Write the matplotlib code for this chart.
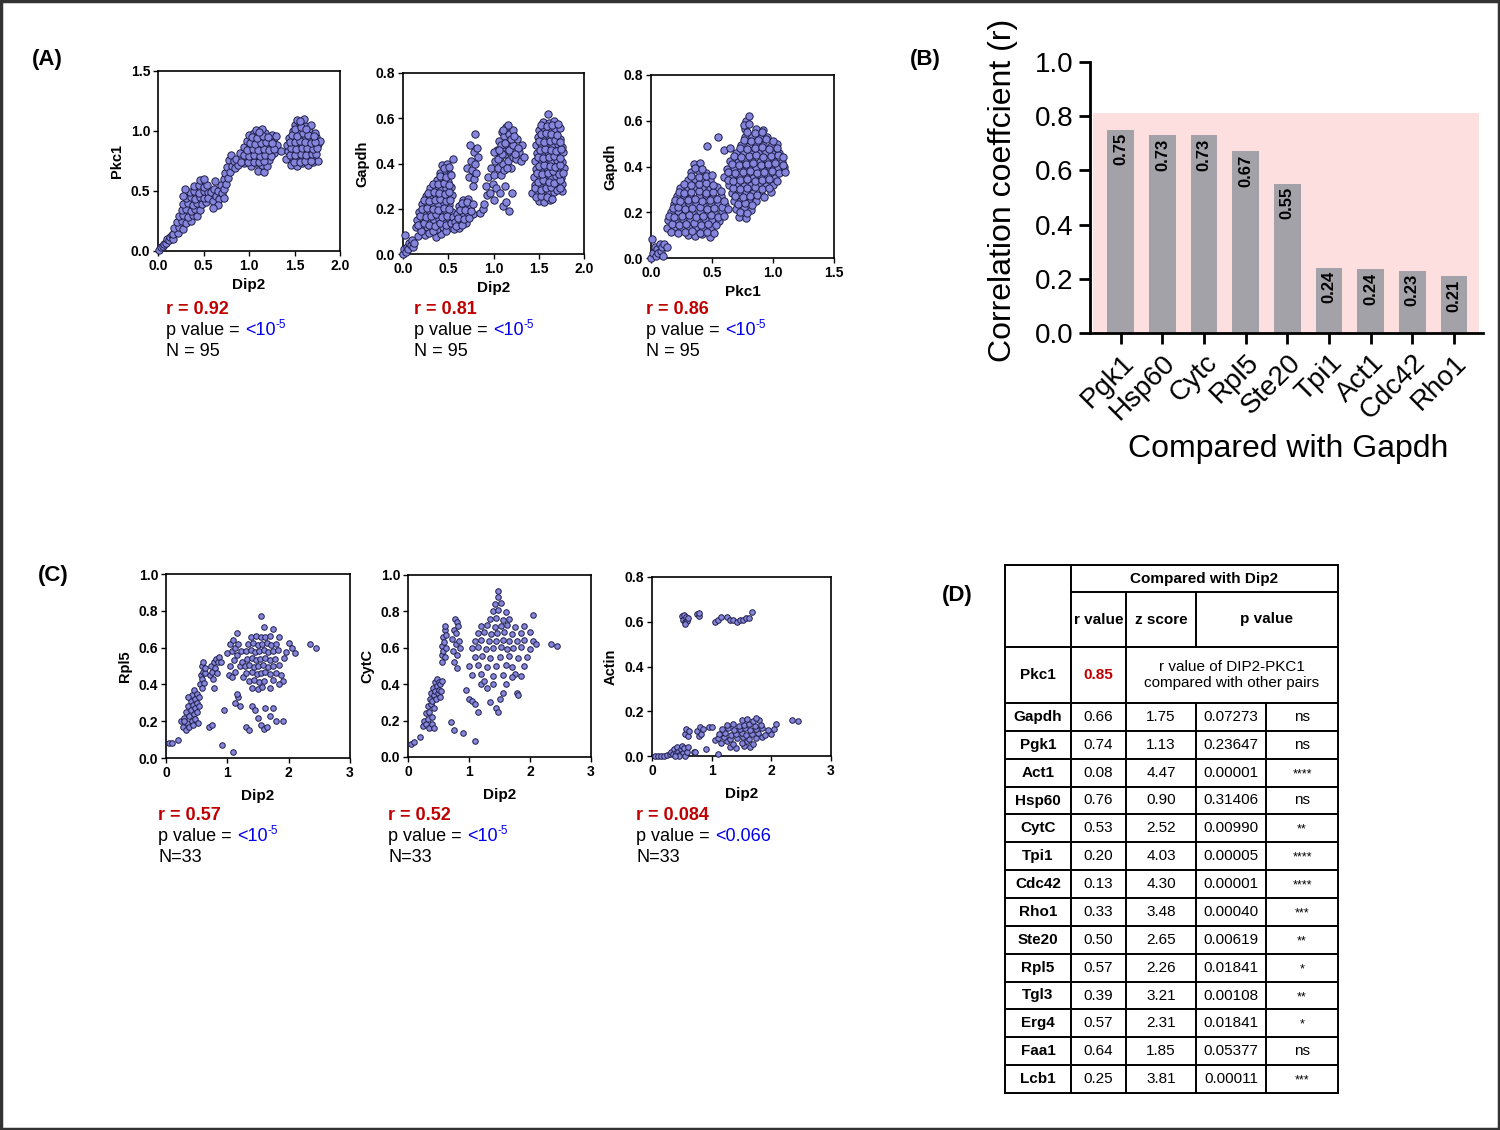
import matplotlib.pyplot as plt
import numpy as np
from matplotlib.patches import Rectangle

plt.rcParams['font.family'] = ['Liberation Sans', 'DejaVu Sans']
plt.rcParams['mathtext.fontset'] = 'custom'
plt.rcParams['mathtext.rm'] = 'Liberation Sans'

# ---------------- data ----------------
# (A) Pkc1 vs Dip2
a1_pts = [
    (0.01, 0.01), (0.03, 0.03), (0.05, 0.04), (0.07, 0.06), (0.09, 0.07), (0.10, 0.10),
    (0.12, 0.09), (0.13, 0.12), (0.15, 0.13), (0.16, 0.10),
    (0.17, 0.14), (0.22, 0.15), (0.18, 0.19), (0.23, 0.20), (0.28, 0.18),
    (0.21, 0.24), (0.26, 0.25), (0.31, 0.23), (0.36, 0.25),
    (0.23, 0.29), (0.28, 0.30), (0.33, 0.28), (0.38, 0.30), (0.43, 0.29),
    (0.26, 0.34), (0.31, 0.35), (0.36, 0.33), (0.41, 0.35), (0.46, 0.34),
    (0.28, 0.39), (0.33, 0.40), (0.38, 0.38), (0.43, 0.40), (0.48, 0.39), (0.53, 0.41),
    (0.31, 0.44), (0.36, 0.45), (0.41, 0.43), (0.46, 0.45), (0.51, 0.44), (0.56, 0.46),
    (0.35, 0.49), (0.40, 0.50), (0.45, 0.48), (0.50, 0.50), (0.55, 0.49),
    (0.40, 0.54), (0.45, 0.55), (0.50, 0.53), (0.54, 0.55),
    (0.46, 0.59), (0.51, 0.60), (0.30, 0.52), (0.28, 0.46),
    (0.55, 0.44), (0.58, 0.49), (0.60, 0.42), (0.62, 0.52), (0.64, 0.46), (0.66, 0.50),
    (0.67, 0.43), (0.69, 0.55), (0.70, 0.48), (0.72, 0.60), (0.72, 0.52), (0.74, 0.65),
    (0.75, 0.56), (0.76, 0.70), (0.77, 0.61), (0.78, 0.76), (0.79, 0.66), (0.80, 0.80),
    (0.81, 0.71), (0.83, 0.75), (0.85, 0.69), (0.73, 0.44), (0.63, 0.58), (0.66, 0.38),
    (0.60, 0.36),
    (1.10, 0.67), (1.16, 0.66),
    (0.88, 0.72), (0.95, 0.73), (1.02, 0.71), (1.08, 0.73), (1.14, 0.72), (1.20, 0.71),
    (0.86, 0.77), (0.92, 0.78), (0.98, 0.76), (1.04, 0.78), (1.10, 0.77), (1.16, 0.78), (1.22, 0.76),
    (0.90, 0.82), (0.97, 0.81), (1.03, 0.83), (1.09, 0.82), (1.15, 0.81), (1.21, 0.83), (1.27, 0.82),
    (0.95, 0.87), (1.01, 0.88), (1.07, 0.86), (1.13, 0.88), (1.19, 0.87), (1.25, 0.86), (1.31, 0.88),
    (0.98, 0.92), (1.04, 0.93), (1.10, 0.91), (1.16, 0.93), (1.22, 0.92), (1.28, 0.94),
    (1.00, 0.97), (1.06, 0.98), (1.12, 0.96), (1.18, 0.98), (1.25, 0.97),
    (1.08, 1.01), (1.14, 1.02), (1.35, 0.83), (1.30, 0.96),
    (0.91, 0.745), (0.99, 0.74), (1.05, 0.745), (1.11, 0.74), (1.17, 0.75),
    (0.94, 0.80), (1.00, 0.795), (1.06, 0.80), (1.12, 0.79), (1.18, 0.80), (1.24, 0.79),
    (0.98, 0.845), (1.04, 0.85), (1.10, 0.845), (1.16, 0.85), (1.22, 0.845), (1.28, 0.85),
    (1.01, 0.90), (1.07, 0.895), (1.13, 0.90), (1.19, 0.905), (1.25, 0.90),
    (1.03, 0.95), (1.09, 0.945), (1.15, 0.955), (1.21, 0.95), (1.11, 0.99),
    (1.46, 0.72), (1.53, 0.71), (1.58, 0.73), (1.65, 0.72), (1.70, 0.74),
    (1.41, 0.77), (1.47, 0.78), (1.52, 0.76), (1.59, 0.78), (1.64, 0.77), (1.71, 0.79), (1.76, 0.75),
    (1.43, 0.83), (1.49, 0.82), (1.55, 0.84), (1.61, 0.83), (1.67, 0.82), (1.73, 0.84),
    (1.42, 0.88), (1.47, 0.89), (1.53, 0.87), (1.58, 0.89), (1.64, 0.88), (1.70, 0.87), (1.76, 0.89),
    (1.44, 0.94), (1.50, 0.93), (1.56, 0.95), (1.62, 0.94), (1.68, 0.93), (1.74, 0.95), (1.78, 0.92),
    (1.48, 1.00), (1.54, 0.99), (1.60, 1.01), (1.66, 1.00), (1.72, 0.98),
    (1.50, 1.05), (1.56, 1.06), (1.62, 1.04), (1.68, 1.05),
    (1.53, 1.09), (1.60, 1.10),
    (1.49, 0.745), (1.56, 0.745), (1.62, 0.75), (1.68, 0.75),
    (1.45, 0.80), (1.51, 0.80), (1.57, 0.81), (1.63, 0.80), (1.69, 0.81), (1.74, 0.81),
    (1.46, 0.86), (1.52, 0.85), (1.58, 0.86), (1.64, 0.855), (1.70, 0.85), (1.75, 0.86),
    (1.45, 0.91), (1.50, 0.91), (1.56, 0.92), (1.62, 0.91), (1.68, 0.90), (1.73, 0.91),
    (1.47, 0.97), (1.53, 0.96), (1.59, 0.98), (1.65, 0.97), (1.71, 0.96),
    (1.51, 1.02), (1.57, 1.03), (1.63, 1.02), (1.56, 1.08),
]

# (A) Gapdh vs Dip2
a2_pts = [
    (0.00, 0.00), (0.01, 0.02), (0.02, 0.085), (0.03, 0.01), (0.04, 0.03), (0.06, 0.02),
    (0.07, 0.05), (0.09, 0.04), (0.10, 0.06), (0.11, 0.03), (0.12, 0.05),
    (0.17, 0.08), (0.24, 0.085), (0.36, 0.075), (0.42, 0.09),
    (0.14, 0.12), (0.20, 0.11), (0.26, 0.12), (0.32, 0.115), (0.38, 0.11), (0.44, 0.12), (0.50, 0.115),
    (0.16, 0.15), (0.22, 0.155), (0.28, 0.145), (0.34, 0.15), (0.40, 0.155), (0.46, 0.145), (0.52, 0.15),
    (0.18, 0.185), (0.24, 0.18), (0.30, 0.19), (0.36, 0.185), (0.42, 0.18), (0.48, 0.19), (0.54, 0.185),
    (0.21, 0.22), (0.27, 0.225), (0.33, 0.215), (0.39, 0.22), (0.45, 0.225), (0.51, 0.215),
    (0.25, 0.255), (0.31, 0.25), (0.37, 0.26), (0.43, 0.255), (0.49, 0.25), (0.54, 0.26),
    (0.30, 0.29), (0.36, 0.295), (0.42, 0.285), (0.48, 0.29), (0.53, 0.295),
    (0.38, 0.325), (0.44, 0.33), (0.50, 0.32),
    (0.41, 0.36), (0.47, 0.365), (0.52, 0.355),
    (0.43, 0.395), (0.49, 0.40), (0.55, 0.42),
    (0.20, 0.10), (0.29, 0.095), (0.33, 0.10), (0.47, 0.10),
    (0.17, 0.13), (0.23, 0.135), (0.29, 0.13), (0.35, 0.125), (0.41, 0.135), (0.47, 0.13), (0.53, 0.135),
    (0.19, 0.17), (0.25, 0.165), (0.31, 0.17), (0.37, 0.175), (0.43, 0.165), (0.49, 0.17), (0.55, 0.165),
    (0.21, 0.20), (0.27, 0.205), (0.33, 0.20), (0.39, 0.195), (0.45, 0.205), (0.51, 0.20),
    (0.23, 0.24), (0.29, 0.235), (0.35, 0.24), (0.41, 0.245), (0.47, 0.235), (0.52, 0.24),
    (0.28, 0.27), (0.34, 0.275), (0.40, 0.27), (0.46, 0.265), (0.51, 0.275),
    (0.33, 0.31), (0.39, 0.31), (0.45, 0.315), (0.51, 0.305),
    (0.41, 0.345), (0.47, 0.34), (0.53, 0.35), (0.45, 0.38), (0.51, 0.385),
    (0.56, 0.11), (0.62, 0.115), (0.58, 0.14), (0.64, 0.145), (0.70, 0.135),
    (0.60, 0.175), (0.66, 0.17), (0.72, 0.18), (0.77, 0.175),
    (0.62, 0.21), (0.68, 0.215), (0.74, 0.205), (0.66, 0.24), (0.72, 0.245),
    (0.59, 0.125), (0.65, 0.13), (0.61, 0.16), (0.67, 0.155), (0.73, 0.16), (0.63, 0.195),
    (0.69, 0.195), (0.75, 0.19), (0.65, 0.225), (0.71, 0.23), (0.77, 0.22),
    (0.85, 0.18), (0.88, 0.20), (0.90, 0.22), (0.93, 0.26),
    (0.71, 0.38), (0.73, 0.34), (0.75, 0.41), (0.76, 0.37), (0.78, 0.45), (0.79, 0.33),
    (0.80, 0.40), (0.81, 0.36), (0.83, 0.43), (0.74, 0.48), (0.77, 0.30), (0.82, 0.47), (0.80, 0.53),
    (0.92, 0.30), (0.94, 0.34), (0.96, 0.27), (0.97, 0.38), (0.99, 0.31), (1.00, 0.24),
    (1.01, 0.35), (1.02, 0.41), (1.03, 0.29), (1.04, 0.46), (1.05, 0.38), (1.06, 0.50),
    (1.07, 0.43), (1.08, 0.35), (1.09, 0.54), (1.10, 0.47), (1.11, 0.40), (1.12, 0.52),
    (1.13, 0.44), (1.14, 0.56), (1.15, 0.48), (1.16, 0.41), (1.17, 0.53), (1.18, 0.45),
    (1.19, 0.38), (1.20, 0.50), (1.21, 0.43), (1.22, 0.55), (1.23, 0.47), (1.25, 0.42),
    (1.26, 0.51), (1.28, 0.45), (1.30, 0.41), (1.32, 0.48), (1.34, 0.43), (1.08, 0.48),
    (1.12, 0.37), (1.16, 0.57), (1.00, 0.45),
    (1.05, 0.42), (1.09, 0.44), (1.13, 0.49), (1.17, 0.46), (1.21, 0.48), (1.11, 0.55),
    (1.19, 0.51), (1.23, 0.52), (1.06, 0.46), (1.15, 0.38), (1.27, 0.47), (1.24, 0.44),
    (1.10, 0.21), (1.14, 0.23), (1.17, 0.19), (1.20, 0.27), (1.07, 0.27), (1.13, 0.30),
    (1.50, 0.235), (1.56, 0.23), (1.62, 0.24),
    (1.43, 0.27), (1.49, 0.275), (1.55, 0.265), (1.61, 0.27), (1.67, 0.275), (1.76, 0.28),
    (1.46, 0.305), (1.52, 0.30), (1.58, 0.31), (1.64, 0.305), (1.70, 0.30), (1.76, 0.31),
    (1.45, 0.34), (1.51, 0.345), (1.57, 0.335), (1.63, 0.34), (1.69, 0.345), (1.75, 0.335),
    (1.47, 0.375), (1.53, 0.37), (1.59, 0.38), (1.65, 0.375), (1.71, 0.37), (1.78, 0.38),
    (1.46, 0.41), (1.52, 0.415), (1.58, 0.405), (1.64, 0.41), (1.70, 0.415), (1.76, 0.405),
    (1.48, 0.445), (1.54, 0.44), (1.60, 0.45), (1.66, 0.445), (1.72, 0.44), (1.77, 0.45),
    (1.47, 0.48), (1.53, 0.485), (1.59, 0.475), (1.65, 0.48), (1.71, 0.485), (1.76, 0.475),
    (1.49, 0.515), (1.55, 0.51), (1.61, 0.52), (1.67, 0.515), (1.73, 0.51),
    (1.50, 0.55), (1.56, 0.555), (1.62, 0.545), (1.68, 0.55), (1.74, 0.555),
    (1.55, 0.585), (1.61, 0.58), (1.67, 0.59), (1.60, 0.62),
    (1.47, 0.25), (1.53, 0.255), (1.59, 0.25), (1.65, 0.245),
    (1.46, 0.29), (1.52, 0.285), (1.58, 0.29), (1.64, 0.295), (1.70, 0.285), (1.74, 0.29),
    (1.49, 0.32), (1.55, 0.325), (1.61, 0.32), (1.67, 0.315), (1.73, 0.325),
    (1.48, 0.36), (1.54, 0.355), (1.60, 0.36), (1.66, 0.365), (1.72, 0.355), (1.77, 0.36),
    (1.50, 0.39), (1.56, 0.395), (1.62, 0.39), (1.68, 0.385), (1.74, 0.395),
    (1.49, 0.43), (1.55, 0.425), (1.61, 0.43), (1.67, 0.435), (1.73, 0.425),
    (1.51, 0.46), (1.57, 0.465), (1.63, 0.46), (1.69, 0.455), (1.75, 0.465),
    (1.50, 0.50), (1.56, 0.495), (1.62, 0.50), (1.68, 0.505), (1.74, 0.495),
    (1.52, 0.53), (1.58, 0.535), (1.64, 0.53), (1.70, 0.525),
    (1.53, 0.57), (1.59, 0.565), (1.65, 0.57), (1.71, 0.575),
]

# (A) Gapdh vs Pkc1
a3_pts = [
    (0.00, 0.00), (0.01, 0.085), (0.02, 0.02), (0.03, 0.05), (0.04, 0.01), (0.05, 0.04),
    (0.06, 0.02), (0.07, 0.06), (0.08, 0.03), (0.09, 0.05), (0.10, 0.01), (0.11, 0.06), (0.13, 0.05),
    (0.30, 0.10), (0.36, 0.095), (0.42, 0.105), (0.48, 0.09),
    (0.13, 0.13), (0.19, 0.135), (0.25, 0.125), (0.31, 0.13), (0.37, 0.135), (0.43, 0.125), (0.49, 0.13),
    (0.14, 0.165), (0.20, 0.16), (0.26, 0.17), (0.32, 0.165), (0.38, 0.16), (0.44, 0.17), (0.50, 0.165), (0.56, 0.16),
    (0.16, 0.20), (0.22, 0.205), (0.28, 0.195), (0.34, 0.20), (0.40, 0.205), (0.46, 0.195), (0.52, 0.20), (0.58, 0.205),
    (0.19, 0.235), (0.25, 0.23), (0.31, 0.24), (0.37, 0.235), (0.43, 0.23), (0.49, 0.24), (0.55, 0.235), (0.61, 0.23),
    (0.21, 0.27), (0.27, 0.275), (0.33, 0.265), (0.39, 0.27), (0.45, 0.275), (0.51, 0.265), (0.57, 0.27),
    (0.24, 0.305), (0.30, 0.30), (0.36, 0.31), (0.42, 0.305), (0.48, 0.30), (0.54, 0.31),
    (0.30, 0.34), (0.36, 0.345), (0.42, 0.335), (0.48, 0.34),
    (0.33, 0.375), (0.39, 0.38), (0.45, 0.37), (0.35, 0.41), (0.40, 0.415),
    (0.16, 0.115), (0.22, 0.11), (0.28, 0.115), (0.34, 0.12), (0.40, 0.11), (0.46, 0.115), (0.52, 0.11),
    (0.17, 0.15), (0.23, 0.145), (0.29, 0.15), (0.35, 0.155), (0.41, 0.145), (0.47, 0.15), (0.53, 0.145),
    (0.15, 0.185), (0.19, 0.18), (0.25, 0.185), (0.31, 0.19), (0.37, 0.18), (0.43, 0.185), (0.49, 0.19), (0.55, 0.18), (0.60, 0.185),
    (0.18, 0.22), (0.22, 0.225), (0.28, 0.215), (0.34, 0.22), (0.40, 0.225), (0.46, 0.215), (0.52, 0.22), (0.58, 0.225), (0.63, 0.215),
    (0.20, 0.255), (0.24, 0.25), (0.30, 0.255), (0.36, 0.26), (0.42, 0.25), (0.48, 0.255), (0.54, 0.26), (0.60, 0.25),
    (0.23, 0.29), (0.27, 0.285), (0.33, 0.29), (0.39, 0.295), (0.45, 0.285), (0.51, 0.29), (0.57, 0.295),
    (0.27, 0.325), (0.33, 0.32), (0.39, 0.325), (0.45, 0.33), (0.51, 0.32),
    (0.33, 0.36), (0.39, 0.355), (0.45, 0.36), (0.50, 0.365), (0.36, 0.395), (0.42, 0.39),
    (0.72, 0.18), (0.78, 0.175),
    (0.70, 0.215), (0.76, 0.22), (0.82, 0.21),
    (0.68, 0.25), (0.74, 0.255), (0.80, 0.245), (0.86, 0.25),
    (0.66, 0.285), (0.72, 0.28), (0.78, 0.29), (0.84, 0.285), (0.90, 0.28), (0.98, 0.29),
    (0.64, 0.32), (0.70, 0.325), (0.76, 0.315), (0.82, 0.32), (0.88, 0.325), (0.94, 0.315), (1.00, 0.32),
    (0.60, 0.355), (0.66, 0.35), (0.72, 0.36), (0.78, 0.355), (0.84, 0.35), (0.90, 0.36), (0.96, 0.355), (1.02, 0.35),
    (0.62, 0.39), (0.68, 0.395), (0.74, 0.385), (0.80, 0.39), (0.86, 0.395), (0.92, 0.385), (0.98, 0.39), (1.04, 0.395), (1.09, 0.40),
    (0.65, 0.425), (0.71, 0.42), (0.77, 0.43), (0.83, 0.425), (0.89, 0.42), (0.95, 0.43), (1.01, 0.425), (1.07, 0.42),
    (0.70, 0.46), (0.76, 0.465), (0.82, 0.455), (0.88, 0.46), (0.94, 0.465), (1.00, 0.455), (1.05, 0.46),
    (0.74, 0.495), (0.80, 0.49), (0.86, 0.50), (0.92, 0.495), (0.98, 0.49), (1.03, 0.50),
    (0.77, 0.53), (0.83, 0.535), (0.89, 0.525), (0.95, 0.53),
    (0.77, 0.565), (0.86, 0.565), (0.92, 0.56), (0.78, 0.60), (0.80, 0.62),
    (0.73, 0.20), (0.79, 0.195), (0.71, 0.235), (0.77, 0.24), (0.83, 0.23),
    (0.69, 0.27), (0.75, 0.265), (0.81, 0.27), (0.87, 0.275), (0.93, 0.265),
    (0.67, 0.305), (0.73, 0.30), (0.79, 0.305), (0.85, 0.31), (0.91, 0.30), (0.97, 0.305),
    (0.63, 0.34), (0.67, 0.335), (0.73, 0.34), (0.79, 0.345), (0.85, 0.335), (0.91, 0.34), (0.97, 0.345), (1.03, 0.335),
    (0.63, 0.375), (0.69, 0.37), (0.75, 0.375), (0.81, 0.38), (0.87, 0.37), (0.93, 0.375), (0.99, 0.38), (1.05, 0.37), (1.10, 0.375),
    (0.66, 0.41), (0.72, 0.405), (0.78, 0.41), (0.84, 0.415), (0.90, 0.405), (0.96, 0.41), (1.02, 0.415), (1.08, 0.405),
    (0.68, 0.445), (0.74, 0.44), (0.80, 0.445), (0.86, 0.45), (0.92, 0.44), (0.98, 0.445), (1.04, 0.45), (1.08, 0.44),
    (0.73, 0.48), (0.79, 0.475), (0.85, 0.48), (0.91, 0.485), (0.97, 0.475), (1.03, 0.48),
    (0.76, 0.515), (0.82, 0.51), (0.88, 0.515), (0.94, 0.52), (1.00, 0.51),
    (0.79, 0.55), (0.85, 0.545), (0.91, 0.55), (0.76, 0.58), (0.80, 0.585),
    (0.55, 0.53), (0.46, 0.49), (0.60, 0.47), (0.65, 0.48),
]

# (C) Rpl5 vs Dip2
c1_pts = [
    (0.05, 0.08), (0.10, 0.08), (0.20, 0.10),
    (0.25, 0.20), (0.28, 0.17), (0.30, 0.22), (0.32, 0.15), (0.33, 0.25), (0.35, 0.19), (0.36, 0.28),
    (0.38, 0.23), (0.38, 0.17), (0.40, 0.31), (0.40, 0.26), (0.42, 0.20), (0.43, 0.34), (0.44, 0.29),
    (0.45, 0.24), (0.46, 0.37), (0.47, 0.32), (0.48, 0.27), (0.48, 0.21), (0.50, 0.35), (0.50, 0.30),
    (0.51, 0.25), (0.52, 0.19), (0.53, 0.33), (0.54, 0.28), (0.44, 0.18), (0.36, 0.33), (0.29, 0.20),
    (0.56, 0.40), (0.57, 0.45), (0.58, 0.50), (0.59, 0.43), (0.60, 0.47), (0.61, 0.52), (0.62, 0.41),
    (0.63, 0.46), (0.64, 0.49), (0.58, 0.38),
    (0.70, 0.17), (0.75, 0.18),
    (0.71, 0.45), (0.73, 0.50), (0.75, 0.47), (0.76, 0.43), (0.78, 0.52), (0.79, 0.38), (0.80, 0.49),
    (0.82, 0.54), (0.83, 0.46), (0.85, 0.52), (0.87, 0.55), (0.90, 0.52),
    (0.92, 0.07), (0.95, 0.26), (1.10, 0.03),
    (1.00, 0.57), (1.02, 0.45), (1.04, 0.62), (1.05, 0.50), (1.07, 0.58), (1.08, 0.44), (1.10, 0.64),
    (1.11, 0.53), (1.12, 0.60), (1.13, 0.47), (1.15, 0.68), (1.16, 0.56), (1.18, 0.62), (1.20, 0.50),
    (1.22, 0.58), (1.17, 0.33), (1.12, 0.30), (1.15, 0.35), (1.20, 0.28), (1.25, 0.44), (1.24, 0.52),
    (1.40, 0.38), (1.50, 0.375), (1.56, 0.385), (1.70, 0.38),
    (1.35, 0.42), (1.44, 0.425), (1.52, 0.415), (1.60, 0.42), (1.75, 0.425), (1.90, 0.42),
    (1.30, 0.46), (1.40, 0.465), (1.48, 0.455), (1.55, 0.46), (1.62, 0.465), (1.70, 0.455), (1.80, 0.46),
    (1.28, 0.50), (1.36, 0.505), (1.44, 0.495), (1.50, 0.50), (1.58, 0.505), (1.66, 0.495), (1.74, 0.50), (1.85, 0.505),
    (1.32, 0.54), (1.40, 0.545), (1.47, 0.535), (1.54, 0.54), (1.62, 0.545), (1.70, 0.535), (1.78, 0.54), (1.92, 0.545),
    (1.30, 0.58), (1.38, 0.585), (1.45, 0.575), (1.52, 0.58), (1.60, 0.585), (1.67, 0.575), (1.75, 0.58), (1.83, 0.585), (1.95, 0.575),
    (1.34, 0.62), (1.42, 0.625), (1.50, 0.615), (1.57, 0.62), (1.65, 0.625), (1.72, 0.615), (1.80, 0.62), (2.00, 0.625),
    (1.38, 0.66), (1.46, 0.665), (1.55, 0.655), (1.62, 0.66), (1.70, 0.665), (1.85, 0.655),
    (1.60, 0.71), (1.75, 0.70),
    (1.30, 0.17), (1.35, 0.15), (1.40, 0.28), (1.45, 0.26), (1.50, 0.22), (1.55, 0.18), (1.60, 0.16),
    (1.62, 0.27), (1.65, 0.17), (1.70, 0.23), (1.75, 0.27), (1.80, 0.20), (1.90, 0.20), (1.85, 0.40),
    (1.88, 0.45), (2.05, 0.60), (2.10, 0.57), (2.35, 0.62), (2.45, 0.60), (1.55, 0.77),
]

# (C) CytC vs Dip2
c2_pts = [
    (0.05, 0.07), (0.10, 0.08), (0.20, 0.11),
    (0.25, 0.17), (0.27, 0.20), (0.29, 0.18), (0.30, 0.24), (0.32, 0.21), (0.33, 0.28), (0.34, 0.16),
    (0.35, 0.25), (0.36, 0.32), (0.37, 0.29), (0.38, 0.35), (0.39, 0.22), (0.40, 0.31), (0.41, 0.38),
    (0.42, 0.34), (0.43, 0.27), (0.44, 0.41), (0.45, 0.36), (0.46, 0.32), (0.47, 0.43), (0.48, 0.39),
    (0.49, 0.35), (0.50, 0.41), (0.51, 0.37), (0.52, 0.33), (0.53, 0.40), (0.54, 0.36), (0.40, 0.18),
    (0.42, 0.16), (0.55, 0.42),
    (0.55, 0.56), (0.56, 0.61), (0.57, 0.66), (0.58, 0.58), (0.59, 0.63), (0.60, 0.70), (0.61, 0.55),
    (0.62, 0.60), (0.63, 0.67), (0.56, 0.52), (0.60, 0.72),
    (0.70, 0.19), (0.75, 0.15), (0.90, 0.13), (1.10, 0.09),
    (0.72, 0.65), (0.74, 0.58), (0.75, 0.70), (0.76, 0.52), (0.77, 0.76), (0.78, 0.62), (0.79, 0.68),
    (0.80, 0.74), (0.81, 0.56), (0.82, 0.72), (0.83, 0.64), (0.80, 0.49), (0.85, 0.60),
    (0.95, 0.37), (1.00, 0.32), (1.05, 0.31), (1.10, 0.29), (1.15, 0.25), (1.20, 0.40), (1.25, 0.42), (1.30, 0.38),
    (1.05, 0.45), (1.20, 0.455), (1.40, 0.445), (1.55, 0.45), (1.75, 0.455), (1.85, 0.445),
    (1.00, 0.50), (1.15, 0.505), (1.30, 0.495), (1.45, 0.50), (1.60, 0.505), (1.70, 0.495), (1.90, 0.50),
    (1.10, 0.55), (1.22, 0.555), (1.35, 0.545), (1.50, 0.55), (1.65, 0.555), (1.80, 0.545), (1.95, 0.55),
    (1.05, 0.60), (1.15, 0.605), (1.28, 0.595), (1.40, 0.60), (1.52, 0.605), (1.62, 0.595), (1.72, 0.60), (1.85, 0.605), (2.00, 0.595),
    (1.10, 0.64), (1.20, 0.645), (1.32, 0.635), (1.44, 0.64), (1.55, 0.645), (1.65, 0.635), (1.78, 0.64), (1.90, 0.645), (2.05, 0.635),
    (1.15, 0.68), (1.25, 0.685), (1.36, 0.675), (1.46, 0.68), (1.58, 0.685), (1.70, 0.675), (1.85, 0.68), (2.00, 0.685),
    (1.20, 0.72), (1.30, 0.725), (1.42, 0.715), (1.52, 0.72), (1.62, 0.725), (1.75, 0.715), (1.90, 0.72),
    (1.35, 0.76), (1.45, 0.765), (1.55, 0.755), (1.65, 0.76),
    (1.40, 0.80), (1.48, 0.805), (1.60, 0.795), (1.42, 0.84), (1.52, 0.845), (1.48, 0.88), (1.48, 0.91),
    (1.35, 0.30), (1.45, 0.27), (1.50, 0.32), (1.48, 0.25), (1.55, 0.35), (1.60, 0.40), (1.70, 0.44),
    (1.78, 0.35), (1.80, 0.34), (1.40, 0.40),
    (2.05, 0.78), (2.10, 0.62), (2.35, 0.62), (2.45, 0.61),
]

# (C) Actin vs Dip2
c3_pts = [
    (0.50, 0.625), (0.52, 0.61), (0.54, 0.63), (0.55, 0.60), (0.57, 0.62), (0.58, 0.605), (0.60, 0.615), (0.56, 0.59),
    (0.76, 0.635), (0.78, 0.625), (0.79, 0.64),
    (1.05, 0.60), (1.10, 0.61), (1.15, 0.62), (1.25, 0.62), (1.30, 0.61), (1.35, 0.61), (1.42, 0.60),
    (1.48, 0.61), (1.52, 0.61), (1.58, 0.615), (1.63, 0.615), (1.68, 0.645),
    (0.05, 0.00), (0.10, 0.00), (0.15, 0.00), (0.20, 0.00), (0.25, 0.005), (0.30, 0.01), (0.32, 0.02),
    (0.35, 0.01), (0.37, 0.03), (0.40, 0.015), (0.42, 0.04), (0.44, 0.02), (0.46, 0.005), (0.48, 0.03),
    (0.50, 0.045), (0.52, 0.015), (0.54, 0.035), (0.56, 0.00), (0.58, 0.02), (0.60, 0.04), (0.45, 0.00), (0.38, 0.00),
    (0.55, 0.10), (0.57, 0.12), (0.60, 0.09), (0.62, 0.11), (0.70, 0.02), (0.72, 0.02), (0.75, 0.11),
    (0.78, 0.09), (0.80, 0.13), (0.82, 0.10), (0.85, 0.12), (0.90, 0.03), (0.95, 0.13), (1.00, 0.13), (1.05, 0.07),
    (1.30, 0.04), (1.40, 0.035), (1.55, 0.045), (1.65, 0.04),
    (1.15, 0.06), (1.25, 0.065), (1.35, 0.055), (1.50, 0.06), (1.60, 0.065), (1.70, 0.055),
    (1.10, 0.08), (1.20, 0.085), (1.30, 0.075), (1.42, 0.08), (1.52, 0.085), (1.62, 0.075), (1.75, 0.08), (1.85, 0.085),
    (1.12, 0.10), (1.22, 0.105), (1.32, 0.095), (1.40, 0.10), (1.50, 0.105), (1.58, 0.095), (1.68, 0.10),
    (1.78, 0.105), (1.90, 0.095), (2.00, 0.10),
    (1.18, 0.12), (1.28, 0.125), (1.38, 0.115), (1.48, 0.12), (1.56, 0.125), (1.65, 0.115), (1.74, 0.12),
    (1.85, 0.125), (1.95, 0.115), (2.05, 0.12),
    (1.25, 0.14), (1.35, 0.145), (1.45, 0.135), (1.55, 0.14), (1.62, 0.145), (1.72, 0.135), (1.82, 0.14), (2.08, 0.145),
    (1.50, 0.16), (1.60, 0.165), (1.70, 0.155), (1.80, 0.16), (1.75, 0.17),
    (1.10, 0.01), (2.35, 0.16), (2.45, 0.155),
]

# r text, p value (base, exponent), N text
scatter_stats = [
    ('r = 0.92', '<10', '-5', 'N = 95'),
    ('r = 0.81', '<10', '-5', 'N = 95'),
    ('r = 0.86', '<10', '-5', 'N = 95'),
    ('r = 0.57', '<10', '-5', 'N=33'),
    ('r = 0.52', '<10', '-5', 'N=33'),
    ('r = 0.084', '<0.066', '', 'N=33'),
]

# (B) correlation with Gapdh
genes_b = ['Pgk1', 'Hsp60', 'Cytc', 'Rpl5', 'Ste20', 'Tpi1', 'Act1', 'Cdc42', 'Rho1']
r_b = [0.75, 0.73, 0.73, 0.67, 0.55, 0.24, 0.235, 0.23, 0.21]
r_b_labels = ['0.75', '0.73', '0.73', '0.67', '0.55', '0.24', '0.24', '0.23', '0.21']
shade_top = 0.81

# (D) table
tbl_genes = ['Gapdh', 'Pgk1', 'Act1', 'Hsp60', 'CytC', 'Tpi1', 'Cdc42', 'Rho1', 'Ste20',
             'Rpl5', 'Tgl3', 'Erg4', 'Faa1', 'Lcb1']
tbl_r = ['0.66', '0.74', '0.08', '0.76', '0.53', '0.20', '0.13', '0.33', '0.50', '0.57',
         '0.39', '0.57', '0.64', '0.25']
tbl_z = ['1.75', '1.13', '4.47', '0.90', '2.52', '4.03', '4.30', '3.48', '2.65', '2.26',
         '3.21', '2.31', '1.85', '3.81']
tbl_p = ['0.07273', '0.23647', '0.00001', '0.31406', '0.00990', '0.00005', '0.00001',
         '0.00040', '0.00619', '0.01841', '0.00108', '0.01841', '0.05377', '0.00011']
tbl_sig = ['ns', 'ns', '****', 'ns', '**', '****', '****', '***', '**', '*', '**', '*', 'ns', '***']
pkc1_r = '0.85'

# ---------------- figure ----------------
W, H = 1500, 1130
fig = plt.figure(figsize=(15, 11.3), dpi=100)

ov = fig.add_axes([0, 0, 1, 1], zorder=10)
ov.set_xlim(0, W)
ov.set_ylim(H, 0)
ov.axis('off')
ov.patch.set_alpha(0)


def px_axes(l, r, t, b):
    return fig.add_axes([l / W, 1 - b / H, (r - l) / W, (b - t) / H])


face = '#8585dc'
edge = '#1e1e48'


def scatter_panel(box, pts, xlim, ylim, xticks, yticks, xfmt, xlabel, ylabel, s, xlpad):
    ax = px_axes(*box)
    x, y = np.array(pts).T
    ax.scatter(x, y, s=s, c=face, edgecolors=edge, linewidths=0.7, clip_on=False, zorder=3)
    ax.set_xlim(xlim)
    ax.set_ylim(ylim)
    ax.set_xticks(xticks)
    ax.set_yticks(yticks)
    ax.set_xticklabels([xfmt % v for v in xticks], fontweight='bold', fontsize=10)
    ax.set_yticklabels(['%.1f' % v for v in yticks], fontweight='bold', fontsize=10)
    ax.set_xlabel(xlabel, fontweight='bold', fontsize=11, labelpad=xlpad)
    ax.set_ylabel(ylabel, fontweight='bold', fontsize=10.5, labelpad=5)
    ax.tick_params(direction='out', length=3.5, width=1, pad=2)
    for sp in ax.spines.values():
        sp.set_linewidth(1.2)
    return ax


scatter_panel((158, 340, 71, 251), a1_pts, (0, 2), (0, 1.5), [0, 0.5, 1, 1.5, 2],
              [0, 0.5, 1, 1.5], '%.1f', 'Dip2', 'Pkc1', 28, 4)
scatter_panel((403, 584, 73, 254), a2_pts, (0, 2), (0, 0.8), [0, 0.5, 1, 1.5, 2],
              [0, 0.2, 0.4, 0.6, 0.8], '%.1f', 'Dip2', 'Gapdh', 28, 4)
scatter_panel((651, 834, 75, 258), a3_pts, (0, 1.5), (0, 0.8), [0, 0.5, 1, 1.5],
              [0, 0.2, 0.4, 0.6, 0.8], '%.1f', 'Pkc1', 'Gapdh', 28, 4)
scatter_panel((166, 350, 574, 758), c1_pts, (0, 3), (0, 1.0), [0, 1, 2, 3],
              [0, 0.2, 0.4, 0.6, 0.8, 1.0], '%d', 'Dip2', 'Rpl5', 16, 7)
scatter_panel((408, 591, 575, 757), c2_pts, (0, 3), (0, 1.0), [0, 1, 2, 3],
              [0, 0.2, 0.4, 0.6, 0.8, 1.0], '%d', 'Dip2', 'CytC', 16, 7)
scatter_panel((652, 831, 577, 756), c3_pts, (0, 3), (0, 0.8), [0, 1, 2, 3],
              [0, 0.2, 0.4, 0.6, 0.8], '%d', 'Dip2', 'Actin', 16, 7)

# stats under each scatter panel
stat_pos = [(166, 314), (414, 314), (646, 314), (158, 820), (388, 820), (636, 820)]
renderer = fig.canvas.get_renderer()
for (sx, sy), (rt, pbase, pexp, nt) in zip(stat_pos, scatter_stats):
    ov.text(sx, sy, rt, color='#c00000', fontweight='bold', fontsize=13, va='baseline')
    t = ov.text(sx, sy + 21, 'p value =', fontsize=13, va='baseline')
    bb = t.get_window_extent(renderer)
    tb = ov.text(bb.x1 + 5, sy + 21, pbase, color='#0000ee', fontsize=13, va='baseline')
    if pexp:
        bb2 = tb.get_window_extent(renderer)
        ov.text(bb2.x1 + 0.5, sy + 14, pexp, color='#0000ee', fontsize=8.5, va='baseline')
    ov.text(sx, sy + 42, nt, fontsize=13, va='baseline')

# ---------------- (B) ----------------
axb = px_axes(1090, 1483, 62, 333)
xpos = np.arange(len(genes_b))
axb.fill_between([-0.67, 8.6], 0, shade_top, color='#fddfe0', lw=0, zorder=0)
axb.bar(xpos, r_b, width=0.64, color='#a2a2a8', zorder=2)
for xp, v, lab in zip(xpos, r_b, r_b_labels):
    axb.text(xp, v - 0.012, lab, rotation=90, ha='center', va='top',
             fontweight='bold', fontsize=12, zorder=3)
axb.set_xlim(-0.74, 8.7)
axb.set_ylim(0, 1.0)
axb.set_yticks([0, 0.2, 0.4, 0.6, 0.8, 1.0])
axb.set_yticklabels(['%.1f' % v for v in [0, 0.2, 0.4, 0.6, 0.8, 1.0]])
axb.set_xticks(xpos)
axb.set_xticklabels(genes_b, rotation=45, ha='right', rotation_mode='anchor')
axb.tick_params(direction='out', length=8, width=2, labelsize=20, pad=4)
axb.spines['top'].set_visible(False)
axb.spines['right'].set_visible(False)
axb.spines['left'].set_linewidth(2)
axb.spines['bottom'].set_linewidth(2)
ov.text(1003, 190, 'Correlation coeffcient (r)', rotation=90, fontsize=23,
        ha='center', va='center')
ov.text(1288, 449, 'Compared with Gapdh', fontsize=23, ha='center', va='center')

# ---------------- (D) table ----------------
cols = [1005, 1071, 1126, 1196, 1266, 1338]
y_top, y_h1, y_h2, y_h3, y_bot = 565, 592, 647, 703, 1093
row_h = (y_bot - y_h3) / len(tbl_genes)
lk = dict(color='black', lw=1.4, solid_capstyle='projecting')


def hline(y, x0, x1):
    ov.plot([x0, x1], [y, y], **lk)


def vline(x, y0, y1):
    ov.plot([x, x], [y0, y1], **lk)


hline(y_top, cols[0], cols[-1])
hline(y_h1, cols[1], cols[-1])
hline(y_h2, cols[0], cols[-1])
hline(y_h3, cols[0], cols[-1])
for i in range(1, len(tbl_genes) + 1):
    hline(y_h3 + i * row_h, cols[0], cols[-1])
vline(cols[0], y_top, y_bot)
vline(cols[1], y_top, y_bot)
vline(cols[2], y_h1, y_bot)
vline(cols[3], y_h1, y_h2)
vline(cols[3], y_h3, y_bot)
vline(cols[4], y_h3, y_bot)
vline(cols[5], y_top, y_bot)

tfs = 11
ov.text((cols[1] + cols[5]) / 2, (y_top + y_h1) / 2, 'Compared with Dip2', fontsize=tfs,
        fontweight='bold', ha='center', va='center')
ov.text((cols[1] + cols[2]) / 2, (y_h1 + y_h2) / 2, 'r value', fontsize=tfs,
        fontweight='bold', ha='center', va='center')
ov.text((cols[2] + cols[3]) / 2, (y_h1 + y_h2) / 2, 'z score', fontsize=tfs,
        fontweight='bold', ha='center', va='center')
ov.text((cols[3] + cols[5]) / 2, (y_h1 + y_h2) / 2, 'p value', fontsize=tfs,
        fontweight='bold', ha='center', va='center')
ym = (y_h2 + y_h3) / 2
ov.text((cols[0] + cols[1]) / 2, ym, 'Pkc1', fontsize=tfs, fontweight='bold',
        ha='center', va='center')
ov.text((cols[1] + cols[2]) / 2, ym, pkc1_r, fontsize=tfs, fontweight='bold',
        color='#c00000', ha='center', va='center')
ov.text((cols[2] + cols[5]) / 2, ym, 'r value of DIP2-PKC1\ncompared with other pairs',
        fontsize=tfs, ha='center', va='center', linespacing=1.15)
for i, row in enumerate(zip(tbl_genes, tbl_r, tbl_z, tbl_p, tbl_sig)):
    yc = y_h3 + (i + 0.5) * row_h
    for j, val in enumerate(row):
        stars = j == 4 and val != 'ns'
        ov.text((cols[j] + cols[j + 1]) / 2, yc, val, fontsize=9 if stars else tfs,
                fontweight='bold' if j == 0 else 'normal', ha='center',
                va='center_baseline' if stars else 'center')

# panel letters
for lab, (px, py) in zip(['(A)', '(B)', '(C)', '(D)'],
                         [(47, 60), (925, 60), (53, 575), (957, 596)]):
    ov.text(px, py, lab, fontsize=16, fontweight='bold', ha='center', va='center')

# outer frame
ov.add_patch(Rectangle((1, 1), W - 2, H - 2, fill=False, ec='#333333', lw=2.5))

fig.savefig('out.png', dpi=100)
